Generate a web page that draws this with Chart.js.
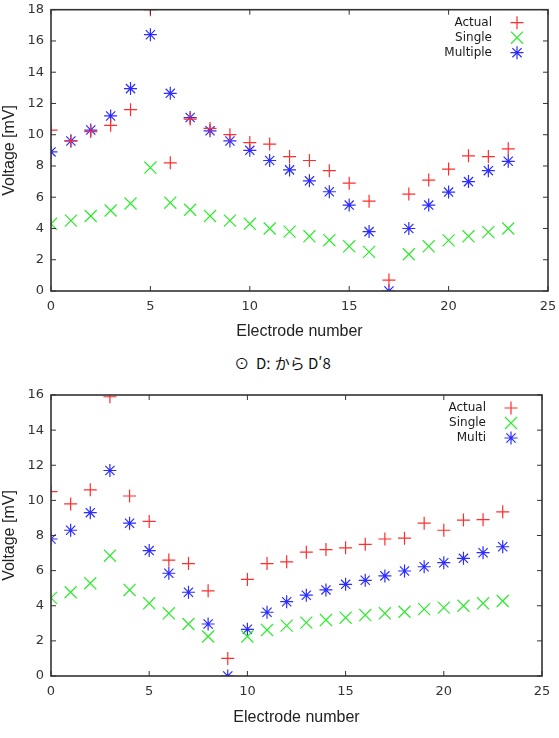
<!DOCTYPE html>
<html>
<head>
<meta charset="utf-8">
<script src="https://cdn.jsdelivr.net/npm/chart.js@4"></script>
<style>
  body { margin: 0; background: #fff; width: 559px; height: 738px; position: relative; overflow: hidden; }
  canvas { position: absolute; left: 0; }
  #topChart { top: 0; }
  #bottomChart { top: 385px; }
  #caption {
    position: absolute; top: 352px; left: 0; width: 565px; text-align: center;
    font-family: "Noto Sans CJK JP", "DejaVu Sans", sans-serif; font-size: 15px; color: #111;
  }
</style>
</head>
<body>
<canvas id="topChart" width="559" height="345"></canvas>
<div id="caption">⊙&nbsp; Dː から Dʹ8</div>
<canvas id="bottomChart" width="559" height="353"></canvas>
<script>
// electrode index on the x axis
const electrodes = [0, 1, 2, 3, 4, 5, 6, 7, 8, 9, 10, 11, 12, 13, 14, 15, 16, 17, 18, 19, 20, 21, 22, 23];
const xTicks = [0, 5, 10, 15, 20, 25];

// top plot
const topActual   = [10.3, 9.6, 10.2, 10.6, 11.6, 18.0, 8.2, 11.0, 10.4, 10.0, 9.5, 9.4, 8.6, 8.35, 7.7, 6.9, 5.75, 0.7, 6.2, 7.1, 7.8, 8.65, 8.6, 9.1];
const topSingle   = [4.3, 4.5, 4.8, 5.15, 5.6, 7.9, 5.65, 5.2, 4.8, 4.5, 4.3, 4.0, 3.8, 3.5, 3.25, 2.86, 2.5, null, 2.35, 2.86, 3.24, 3.5, 3.77, 4.0];
const topMultiple = [8.9, 9.6, 10.3, 11.2, 12.95, 16.4, 12.65, 11.1, 10.25, 9.6, 9.0, 8.35, 7.75, 7.05, 6.35, 5.5, 3.8, 0, 4.0, 5.5, 6.33, 7.0, 7.7, 8.3];
const topYTicks   = [0, 2, 4, 6, 8, 10, 12, 14, 16, 18];

// bottom plot
const botActual = [10.5, 9.8, 10.6, 15.9, 10.25, 8.8, 6.6, 6.4, 4.85, 1.0, 5.5, 6.4, 6.5, 7.05, 7.2, 7.3, 7.5, 7.8, 7.85, 8.7, 8.3, 8.88, 8.9, 9.35];
const botSingle = [4.45, 4.77, 5.28, 6.85, 4.9, 4.14, 3.57, 2.96, 2.25, null, 2.25, 2.62, 2.87, 3.04, 3.19, 3.32, 3.47, 3.57, 3.66, 3.81, 3.89, 4.0, 4.14, 4.27];
const botMulti  = [7.8, 8.3, 9.3, 11.7, 8.7, 7.14, 5.85, 4.77, 2.96, 0, 2.66, 3.63, 4.23, 4.6, 4.9, 5.22, 5.45, 5.7, 5.98, 6.22, 6.45, 6.7, 7.02, 7.36];
const botYTicks = [0, 2, 4, 6, 8, 10, 12, 14, 16];

const RED = 'rgb(255,45,45)';
const GREEN = 'rgb(45,235,45)';
const BLUE = 'rgb(45,45,255)';
const AXIS = '#333';

const toPoints = vals => electrodes.map((x, i) => ({ x: x, y: vals[i] })).filter(p => p.y !== null);

function series(label, vals, color, style, radius) {
  return {
    label: label,
    data: toPoints(vals),
    showLine: false,
    pointStyle: style,
    pointRadius: radius,
    pointHoverRadius: radius,
    pointBorderColor: color,
    pointBackgroundColor: color,
    pointBorderWidth: 1.2
  };
}

// gnuplot-like frame with inward ticks on all four sides + legend inside
const framePlugin = {
  id: 'frame',
  afterDraw(chart) {
    const { ctx, chartArea: a, scales } = chart;
    ctx.save();
    ctx.strokeStyle = AXIS;
    ctx.lineWidth = 1;
    const tl = 5;
    ctx.beginPath();
    scales.x.ticks.forEach(t => {
      const px = scales.x.getPixelForValue(t.value);
      ctx.moveTo(px, a.bottom); ctx.lineTo(px, a.bottom - tl);
      ctx.moveTo(px, a.top); ctx.lineTo(px, a.top + tl);
    });
    scales.y.ticks.forEach(t => {
      const py = scales.y.getPixelForValue(t.value);
      ctx.moveTo(a.left, py); ctx.lineTo(a.left + tl, py);
      ctx.moveTo(a.right, py); ctx.lineTo(a.right - tl, py);
    });
    ctx.stroke();
    ctx.lineWidth = 1.6;
    ctx.strokeRect(a.left, a.top, a.right - a.left, a.bottom - a.top);

    // legend
    ctx.font = '12px "DejaVu Sans"';
    ctx.textAlign = 'right';
    ctx.textBaseline = 'middle';
    chart.data.datasets.forEach((ds, i) => {
      const y = a.top + 13 + i * 15;
      ctx.fillStyle = '#1a1a1a';
      ctx.fillText(ds.label, a.right - 56, y);
      ctx.strokeStyle = ds.pointBorderColor;
      ctx.fillStyle = ds.pointBorderColor;
      ctx.lineWidth = ds.pointBorderWidth;
      Chart.helpers.drawPoint(ctx, { pointStyle: ds.pointStyle, radius: ds.pointRadius, borderWidth: ds.pointBorderWidth }, a.right - 31, y);
    });
    ctx.restore();
  }
};

function makeChart(id, datasets, yMax, yTicks, opts) {
  return new Chart(document.getElementById(id), {
    type: 'scatter',
    data: { datasets: datasets },
    plugins: [framePlugin],
    options: {
      responsive: false,
      animation: false,
      layout: { padding: { top: opts.top, right: opts.right, left: 0, bottom: 0 } },
      plugins: { legend: { display: false }, tooltip: { enabled: false } },
      scales: {
        x: {
          type: 'linear', min: 0, max: 25,
          afterBuildTicks: s => { s.ticks = xTicks.map(v => ({ value: v })); },
          afterFit: s => { s.height = opts.xHeight; s.paddingLeft = 0; s.paddingRight = 0; },
          grid: { display: false, drawTicks: false },
          border: { display: false },
          ticks: { padding: 8, color: AXIS, font: { family: 'DejaVu Sans', size: 13 }, maxRotation: 0 },
          title: { display: true, text: 'Electrode number', color: '#222',
                   font: { family: 'Liberation Sans', size: 16 }, padding: { top: 0, bottom: opts.titlePad } }
        },
        y: {
          type: 'linear', min: 0, max: yMax,
          afterBuildTicks: s => { s.ticks = yTicks.map(v => ({ value: v })); },
          afterFit: s => { s.width = 51; s.paddingTop = 0; s.paddingBottom = 0; },
          grid: { display: false, drawTicks: false },
          border: { display: false },
          ticks: { padding: 7, color: AXIS, font: { family: 'DejaVu Sans', size: 13 } },
          title: { display: true, text: 'Voltage [mV]', color: '#222',
                   font: { family: 'Liberation Sans', size: 16 }, padding: { top: 0, bottom: 0 } }
        }
      }
    }
  });
}

makeChart('topChart', [
  series('Actual', topActual, RED, 'cross', 6.5),
  series('Single', topSingle, GREEN, 'crossRot', 8.5),
  series('Multiple', topMultiple, BLUE, 'star', 6.5)
], 18, topYTicks, { top: 9, right: 11, xHeight: 54, titlePad: 4 });

makeChart('bottomChart', [
  series('Actual', botActual, RED, 'cross', 6.5),
  series('Single', botSingle, GREEN, 'crossRot', 8.5),
  series('Multi', botMulti, BLUE, 'star', 6.5)
], 16, botYTicks, { top: 10, right: 17, xHeight: 62, titlePad: 11 });
</script>
</body>
</html>
